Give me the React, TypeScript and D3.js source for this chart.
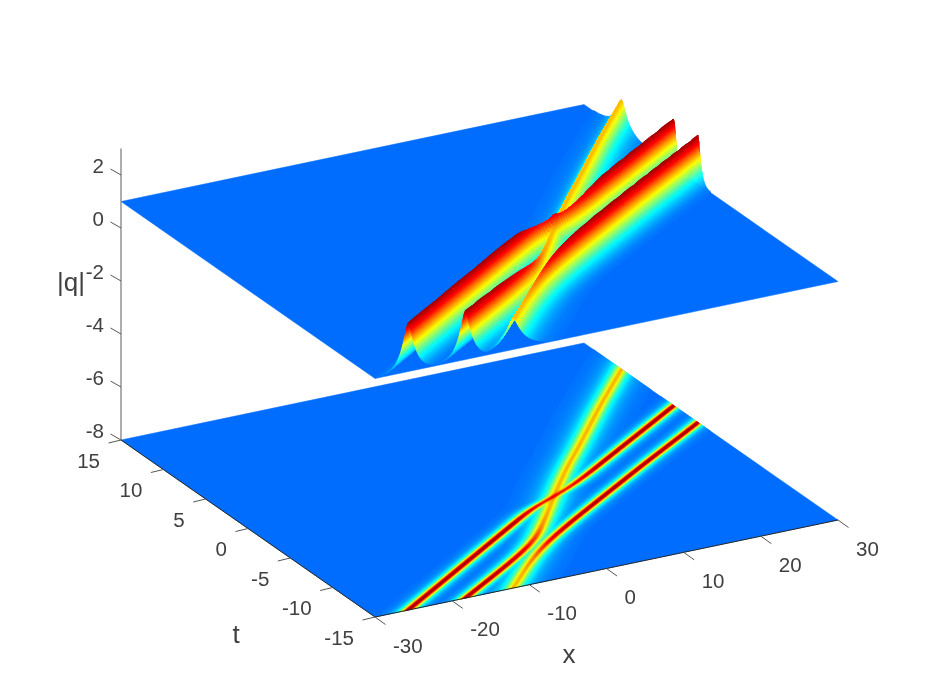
import React, { useMemo } from "react";
import * as d3 from "d3";

const xTicks = [-30, -20, -10, 0, 10, 20, 30];
const tTicks = [-15, -10, -5, 0, 5, 10, 15];
const zTicks = [-8, -6, -4, -2, 0, 2];

// Ridge tracks: x position at t = -15, -13.75, ... 15
const trackA = [-25.7, -22.3, -18.9, -15.5, -12.1, -8.7, -5.3, -1.9, 1.6, 6.8, 10.7, 14.2, 17.7, 21.2, 24.7, 28.2, 31.7, 35.2, 38.7, 42.2, 45.7, 49.2, 52.7, 56.2, 59.7];
const trackB = [-18.3, -14.8, -11.3, -7.9, -4.7, -2.1, -0.1, 1.9, 3.8, 5.7, 7.7, 9.7, 11.8, 14.0, 16.1, 18.2, 20.3, 22.4, 24.6, 26.8, 29.0, 31.2, 33.5, 35.8, 38.1];
const trackC = [-12.1, -9.8, -7.5, -5.0, -2.2, 1.0, 4.4, 7.9, 11.4, 14.9, 18.4, 22.0, 25.6, 29.2, 32.7, 36.3, 39.8, 43.3, 46.8, 50.3, 53.8, 57.3, 60.8, 64.3, 67.8];
// Ridge heights above the background along each track (1 = tallest)
const ampA = [1, 1, 1, 1, 1, 1, 1, 1, 0.85, 0.8, 0.9, 1, 1, 1, 1, 1, 1, 1, 1, 1, 1, 1, 1, 1, 1];
const ampB = [1, 1, 0.98, 0.95, 0.86, 0.76, 0.68, 0.65, 0.64, 0.64, 0.64, 0.64, 0.64, 0.64, 0.64, 0.64, 0.64, 0.64, 0.64, 0.64, 0.64, 0.64, 0.64, 0.64, 0.64];
const ampC = [0.64, 0.64, 0.66, 0.72, 0.85, 0.95, 0.98, 1, 1, 1, 1, 1, 1, 1, 1, 1, 1, 1, 1, 1, 1, 1, 1, 1, 1];

const background = 1;
const peakHeight = 1.85;
const bottomZ = -8;
const topZ = 3;

const origin = [375, 617];
const edgeX = [463, -97];
const edgeT = [-254, -177];
const uScale = d3.scaleLinear().domain([-30, 30]).range([0, 1]);
const vScale = d3.scaleLinear().domain([-15, 15]).range([0, 1]);
const zScale = d3.scaleLinear().domain([bottomZ, topZ]).range([0, -291.5]);
const project = (x: number, t: number, z: number): [number, number] => {
  const u = uScale(x);
  const v = vScale(t);
  return [origin[0] + u * edgeX[0] + v * edgeT[0], origin[1] + u * edgeX[1] + v * edgeT[1] + zScale(z)];
};

const jet = d3
  .scaleLinear<string>()
  .domain([0, 0.125, 0.375, 0.625, 0.875, 1])
  .range(["#00008f", "#0000ff", "#00ffff", "#ffff00", "#ff0000", "#800000"])
  .interpolate(d3.interpolateRgb)
  .clamp(true);
const colorPos = d3.scaleLinear().domain([0, 0.25, 0.55, 0.85, 1]).range([0.232, 0.375, 0.625, 0.875, 0.97]);
const BINS = 160;
const binColor = (b: number) => jet(colorPos(b / BINS));

const tracks = [
  { x: d3.interpolateBasis(trackA), a: d3.interpolateBasis(ampA) },
  { x: d3.interpolateBasis(trackB), a: d3.interpolateBasis(ampB) },
  { x: d3.interpolateBasis(trackC), a: d3.interpolateBasis(ampC) },
];
const WIDTH = 0.9;
const ROUND = 0.25;
const P = 4;
const heightAt = (x: number, t: number) => {
  const v = vScale(t);
  let s = 0;
  for (const tr of tracks) {
    const a = tr.a(v);
    const w = WIDTH / a;
    const d = x - tr.x(v);
    const e = Math.exp((ROUND - Math.sqrt(d * d + ROUND * ROUND)) / w);
    s += Math.pow(a * peakHeight * e, P);
  }
  return Math.pow(s, 1 / P);
};

const NX = 375;
const GX = 60 / NX;
const DT = 0.12;
const SHEAR = 2; // mesh lines follow the ridges: columns shifted per row
const NT = Math.round(30 / DT);
const clampI = (i: number) => Math.max(0, Math.min(NX, i));

function buildSurface() {
  const H: Float64Array[] = [];
  for (let j = 0; j <= NT; j++) {
    const row = new Float64Array(NX + 1);
    const t = -15 + j * DT;
    for (let i = 0; i <= NX; i++) row[i] = heightAt(-30 + i * GX, t);
    H.push(row);
  }
  const top: { d: string; c: number }[] = [];
  const flat: string[][] = Array.from({ length: BINS + 1 }, () => []);
  const f = (p: [number, number]) => `${p[0].toFixed(1)},${p[1].toFixed(1)}`;
  for (let j = NT - 1; j >= 0; j--) {
    const t0 = -15 + j * DT;
    const t1 = t0 + DT;
    for (let i = NX - 1; i >= -SHEAR; i--) {
      const a0 = clampI(i);
      const a1 = clampI(i + 1);
      const b0 = clampI(i + SHEAR);
      const b1 = clampI(i + 1 + SHEAR);
      if (a0 === a1 && b0 === b1) continue;
      const hA0 = H[j][a0];
      const hA1 = H[j][a1];
      const hB0 = H[j + 1][b0];
      const hB1 = H[j + 1][b1];
      if (Math.max(hA0, hA1, hB0, hB1) < 0.02) continue;
      const left = (hA0 + hB0) / 2;
      const right = (hA1 + hB1) / 2;
      const span = Math.abs(right - left) / (peakHeight / BINS);
      const n = Math.max(1, Math.min(8, Math.ceil(span / 3)));
      // strips drawn from the far (high x) side to the near side
      for (let s = n - 1; s >= 0; s--) {
        const p0 = s / n;
        const p1 = (s + 1) / n;
        const xa = (p: number) => -30 + (a0 + (a1 - a0) * p) * GX;
        const xb = (p: number) => -30 + (b0 + (b1 - b0) * p) * GX;
        const ha = (p: number) => hA0 + (hA1 - hA0) * p;
        const hb = (p: number) => hB0 + (hB1 - hB0) * p;
        const hm = (left + right) / 2 + (right - left) * ((p0 + p1) / 2 - 0.5);
        const b = Math.min(BINS, Math.round((hm / peakHeight) * BINS));
        const d = `M${f(project(xa(p0), t0, background + ha(p0)))}L${f(project(xa(p1), t0, background + ha(p1)))}L${f(project(xb(p1), t1, background + hb(p1)))}L${f(project(xb(p0), t1, background + hb(p0)))}Z`;
        const last = top[top.length - 1];
        if (last && last.c === b) last.d += d;
        else top.push({ d, c: b });
        flat[b].push(
          `M${f(project(xa(p0), t0, bottomZ))}L${f(project(xa(p1), t0, bottomZ))}L${f(project(xb(p1), t1, bottomZ))}L${f(project(xb(p0), t1, bottomZ))}Z`
        );
      }
    }
  }
  return { top, flat };
}

const polygon = (pts: [number, number][]) => d3.line()(pts) + "Z";
const corners = (z: number): [number, number][] => [
  project(-30, -15, z),
  project(30, -15, z),
  project(30, 15, z),
  project(-30, 15, z),
];

const textColor = "#404040";
const font = "'Liberation Sans', Arial, sans-serif";
const tickSize = 20.5;
const labelSize = 26;

export default function App() {
  const { top, flat } = useMemo(buildSurface, []);
  const base = binColor(0);
  return (
    <svg
      width={926}
      height={695}
      viewBox="0 0 926 695"
      style={{ position: "absolute", left: 0, top: 0, background: "#fff" }}
      fontFamily={font}
    >
      <defs>
        <filter id="soft" x="0" y="0" width="100%" height="100%">
          <feGaussianBlur stdDeviation="0.45" />
        </filter>
      </defs>
      <g filter="url(#soft)">
        <path d={polygon(corners(bottomZ))} fill={base} stroke={base} strokeWidth={0.5} />
        {flat.map((cells, b) =>
          cells.length ? (
            <path key={b} d={cells.join("")} fill={binColor(b)} stroke={binColor(b)} strokeWidth={0.3} />
          ) : null
        )}
        <path d={polygon(corners(background))} fill={base} stroke={base} strokeWidth={0.5} />
        {top.map((r, k) => (
          <path key={k} d={r.d} fill={binColor(r.c)} stroke={binColor(r.c)} strokeWidth={0.5} strokeLinejoin="round" />
        ))}

        {/* z axis */}
        <line
          x1={project(-30, 15, bottomZ)[0]}
          y1={project(-30, 15, bottomZ)[1]}
          x2={project(-30, 15, topZ)[0]}
          y2={project(-30, 15, topZ)[1]}
          stroke="#808080"
          strokeWidth={1.3}
        />
        {zTicks.map((z) => {
          const [px, py] = project(-30, 15, z);
          return (
            <g key={z}>
              <line x1={px} y1={py} x2={px - 10.5} y2={py - 6} stroke="#555" strokeWidth={1} />
              <text x={px - 17} y={py - 10} textAnchor="end" dominantBaseline="central" fontSize={tickSize} fill={textColor}>
                {z}
              </text>
            </g>
          );
        })}
        <text x={57} y={282} dominantBaseline="central" fontSize={labelSize} fill={textColor}>
          |q|
        </text>

        {/* t axis */}
        <line
          x1={project(-30, 15, bottomZ)[0]}
          y1={project(-30, 15, bottomZ)[1]}
          x2={project(-30, -15, bottomZ)[0]}
          y2={project(-30, -15, bottomZ)[1]}
          stroke="#262626"
          strokeWidth={1}
        />
        {tTicks.map((t) => {
          const [px, py] = project(-30, t, bottomZ);
          return (
            <g key={t}>
              <line x1={px} y1={py} x2={px - 12.5} y2={py + 3} stroke="#555" strokeWidth={1} />
              <text x={px - 21} y={py + 20} textAnchor="end" dominantBaseline="central" fontSize={tickSize} fill={textColor}>
                {t}
              </text>
            </g>
          );
        })}
        <text x={236} y={634} textAnchor="middle" dominantBaseline="central" fontSize={labelSize} fill={textColor}>
          t
        </text>

        {/* x axis */}
        <line
          x1={project(-30, -15, bottomZ)[0]}
          y1={project(-30, -15, bottomZ)[1]}
          x2={project(30, -15, bottomZ)[0]}
          y2={project(30, -15, bottomZ)[1]}
          stroke="#262626"
          strokeWidth={1}
        />
        {xTicks.map((x) => {
          const [px, py] = project(x, -15, bottomZ);
          return (
            <g key={x}>
              <line x1={px} y1={py} x2={px + 10.5} y2={py + 7.5} stroke="#555" strokeWidth={1} />
              <text x={px + 18} y={py + 28} textAnchor="start" dominantBaseline="central" fontSize={tickSize} fill={textColor}>
                {x}
              </text>
            </g>
          );
        })}
        <text x={569} y={654} textAnchor="middle" dominantBaseline="central" fontSize={labelSize} fill={textColor}>
          x
        </text>
      </g>
    </svg>
  );
}
